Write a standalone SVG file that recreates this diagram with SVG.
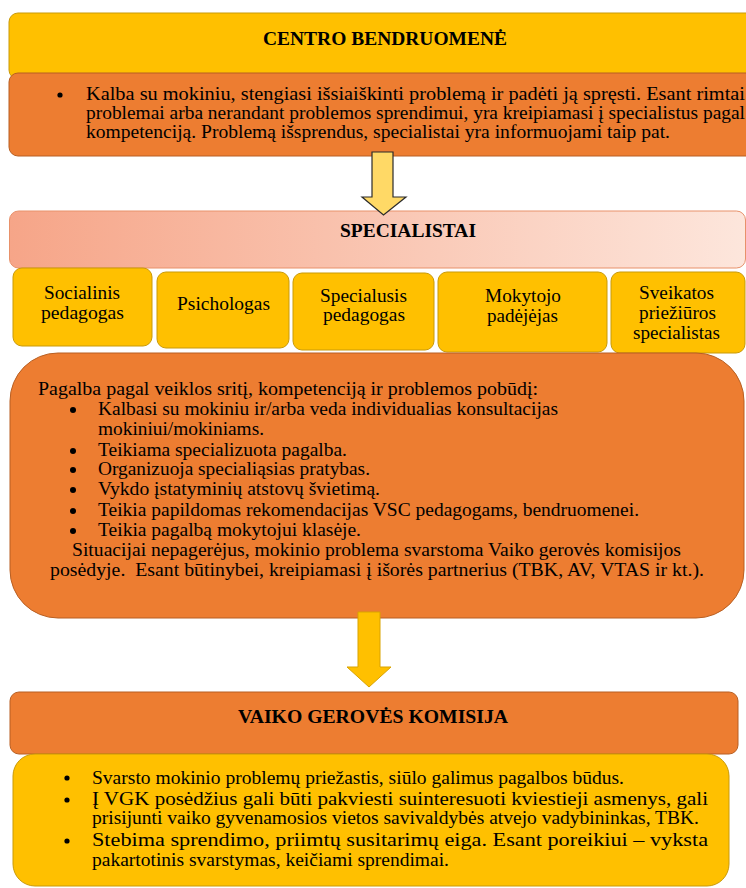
<svg xmlns="http://www.w3.org/2000/svg" width="746" height="888" viewBox="0 0 746 888">
<style>
text{font-family:"Liberation Serif","Times New Roman","DejaVu Serif",serif;fill:#000;font-size:18px}
.b{font-weight:bold}
.m{text-anchor:middle}
.yel{fill:#FFC000;stroke:#C99A08;stroke-width:1}
.org{fill:#ED7D31;stroke:#B85F22;stroke-width:1}
</style>
<defs>
<linearGradient id="sal" x1="0" y1="0" x2="1" y2="0">
<stop offset="0" stop-color="#F6A588"/>
<stop offset="1" stop-color="#FDE6DC"/>
</linearGradient>
</defs>

<g id="centro">
<rect class="yel" x="9" y="13" width="760" height="66" rx="9"/>
<text class="b" x="263" y="45" textLength="244" lengthAdjust="spacingAndGlyphs">CENTRO BENDRUOMENĖ</text>
</g>
<g id="centro-body">
<rect class="org" x="9" y="73" width="760" height="83" rx="9"/>
<circle cx="60" cy="95" r="2.6"/>
<text x="86" y="100" textLength="659" lengthAdjust="spacingAndGlyphs">Kalba su mokiniu, stengiasi išsiaiškinti problemą ir padėti ją spręsti. Esant rimtai</text>
<text x="86" y="119" textLength="659" lengthAdjust="spacingAndGlyphs">problemai arba nerandant problemos sprendimui, yra kreipiamasi į specialistus pagal</text>
<text x="86" y="138" textLength="584" lengthAdjust="spacingAndGlyphs">kompetenciją. Problemą išsprendus, specialistai yra informuojami taip pat.</text>
</g>

<g id="specialistai">
<rect x="9.5" y="211" width="736" height="57" rx="9" fill="url(#sal)" stroke="#E8916A" stroke-width="1"/>
<text class="b" x="340" y="237" textLength="136" lengthAdjust="spacingAndGlyphs">SPECIALISTAI</text>
</g>

<g id="socialinis">
<rect class="yel" x="13" y="268" width="139" height="78" rx="9"/>
<text x="44" y="299" textLength="76" lengthAdjust="spacingAndGlyphs">Socialinis</text>
<text x="41" y="319" textLength="83" lengthAdjust="spacingAndGlyphs">pedagogas</text>
</g>
<g id="psichologas">
<rect class="yel" x="157" y="272" width="132" height="76" rx="9"/>
<text x="177" y="310" textLength="93" lengthAdjust="spacingAndGlyphs">Psichologas</text>
</g>
<g id="specialusis">
<rect class="yel" x="293" y="273" width="141" height="77" rx="9"/>
<text x="320" y="302" textLength="87" lengthAdjust="spacingAndGlyphs">Specialusis</text>
<text x="323" y="321" textLength="82" lengthAdjust="spacingAndGlyphs">pedagogas</text>
</g>
<g id="mokytojo">
<rect class="yel" x="438" y="272" width="169" height="80" rx="9"/>
<text x="485" y="302" textLength="76" lengthAdjust="spacingAndGlyphs">Mokytojo</text>
<text x="487" y="322" textLength="71" lengthAdjust="spacingAndGlyphs">padėjėjas</text>
</g>
<g id="sveikatos">
<rect class="yel" x="611" y="272" width="134" height="81" rx="9"/>
<text x="639" y="299" textLength="75" lengthAdjust="spacingAndGlyphs">Sveikatos</text>
<text x="639" y="319" textLength="77" lengthAdjust="spacingAndGlyphs">priežiūros</text>
<text x="633" y="339" textLength="87" lengthAdjust="spacingAndGlyphs">specialistas</text>
</g>

<g id="pagalba">
<rect class="org" x="10" y="353" width="734" height="265" rx="48"/>
<text x="38" y="395" textLength="500" lengthAdjust="spacingAndGlyphs">Pagalba pagal veiklos sritį, kompetenciją ir problemos pobūdį:</text>
<g>
<circle cx="73" cy="410" r="3"/>
<circle cx="73" cy="451" r="3"/>
<circle cx="73" cy="470" r="3"/>
<circle cx="73" cy="490" r="3"/>
<circle cx="73" cy="511" r="3"/>
<circle cx="73" cy="531" r="3"/>
</g>
<text x="98" y="415" textLength="460" lengthAdjust="spacingAndGlyphs">Kalbasi su mokiniu ir/arba veda individualias konsultacijas</text>
<text x="98" y="435" textLength="166" lengthAdjust="spacingAndGlyphs">mokiniui/mokiniams.</text>
<text x="98" y="456" textLength="249" lengthAdjust="spacingAndGlyphs">Teikiama specializuota pagalba.</text>
<text x="98" y="475" textLength="272" lengthAdjust="spacingAndGlyphs">Organizuoja specialiąsias pratybas.</text>
<text x="98" y="495" textLength="282" lengthAdjust="spacingAndGlyphs">Vykdo įstatyminių atstovų švietimą.</text>
<text x="98" y="516" textLength="541" lengthAdjust="spacingAndGlyphs">Teikia papildomas rekomendacijas VSC pedagogams, bendruomenei.</text>
<text x="98" y="536" textLength="263" lengthAdjust="spacingAndGlyphs">Teikia pagalbą mokytojui klasėje.</text>
<text x="72" y="556" textLength="609" lengthAdjust="spacingAndGlyphs">Situacijai nepagerėjus, mokinio problema svarstoma Vaiko gerovės komisijos</text>
<text x="50" y="576" textLength="654" lengthAdjust="spacingAndGlyphs" xml:space="preserve">posėdyje.  Esant būtinybei, kreipiamasi į išorės partnerius (TBK, AV, VTAS ir kt.).</text>
</g>

<g id="vgk">
<rect class="org" x="10" y="692" width="728" height="62" rx="9"/>
<text class="b" x="238" y="723" textLength="270" lengthAdjust="spacingAndGlyphs">VAIKO GEROVĖS KOMISIJA</text>
</g>
<g id="vgk-body">
<rect class="yel" x="13" y="754" width="716" height="132" rx="22"/>
<circle cx="67" cy="778" r="2.6"/>
<circle cx="67" cy="800" r="2.6"/>
<circle cx="67" cy="841" r="2.6"/>
<text x="92" y="784" textLength="532" lengthAdjust="spacingAndGlyphs">Svarsto mokinio problemų priežastis, siūlo galimus pagalbos būdus.</text>
<text x="92" y="805" textLength="616" lengthAdjust="spacingAndGlyphs">Į VGK posėdžius gali būti pakviesti suinteresuoti kviestieji asmenys, gali</text>
<text x="92" y="824" textLength="607" lengthAdjust="spacingAndGlyphs">prisijunti vaiko gyvenamosios vietos savivaldybės atvejo vadybininkas, TBK.</text>
<text x="92" y="846" textLength="616" lengthAdjust="spacingAndGlyphs">Stebima sprendimo, priimtų susitarimų eiga. Esant poreikiui – vyksta</text>
<text x="92" y="866" textLength="357" lengthAdjust="spacingAndGlyphs">pakartotinis svarstymas, keičiami sprendimai.</text>
</g>

<g id="connectors">
<polygon points="372,152 393,152 393,197 406,197 383.5,215 362,197 372,197" fill="#FFD966" stroke="#2b2b2b" stroke-width="1.2"/>
<polygon points="358,612 380,612 380,667 391,667 369,687 347,667 358,667" fill="#FFC000" stroke="#D9A300" stroke-width="1"/>
</g>
</svg>
